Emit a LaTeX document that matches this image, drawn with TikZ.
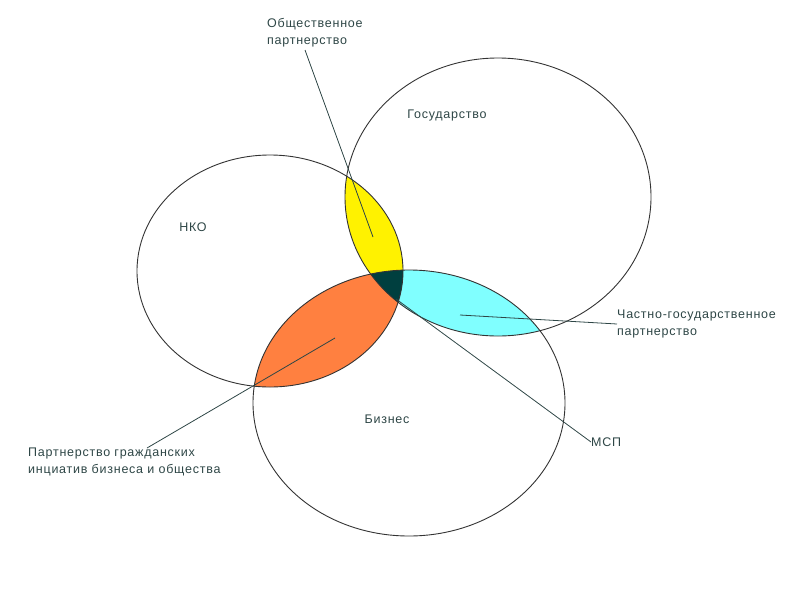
\documentclass[tikz,border=0pt]{standalone}
\usepackage{fontspec}
\setmainfont[LetterSpace=6]{Liberation Sans}
\definecolor{ink}{HTML}{2E4646}
\definecolor{leaf}{HTML}{FF8040}
\definecolor{aqua}{HTML}{80FFFF}
\definecolor{core}{HTML}{003F3F}
\begin{document}
\begin{tikzpicture}[x=1pt,y=-1pt,
  ring/.style={draw=black!80, line width=0.9pt},
  leader/.style={draw=ink, line width=0.8pt},
  lbl/.style={text=ink, font=\fontsize{12.5}{17}\selectfont, inner sep=0pt, align=left}]
  \useasboundingbox (0,0) rectangle (800,600);
  \def\nko{(270,271) ellipse [x radius=133pt, y radius=116pt]}
  \def\gos{(498,197) ellipse [x radius=153pt, y radius=139pt]}
  \def\biz{(409,403) ellipse [x radius=156pt, y radius=133pt]}
  % overlaps
  \begin{scope} \clip \nko; \fill[yellow] \gos; \end{scope}
  \begin{scope} \clip \nko; \fill[leaf] \biz; \end{scope}
  \begin{scope} \clip \gos; \fill[aqua] \biz; \end{scope}
  \begin{scope} \clip \nko; \clip \gos; \fill[core] \biz; \end{scope}
  \draw[ring] \nko;
  \draw[ring] \gos;
  \draw[ring] \biz;
  % labels
  \node[lbl] (nkolbl) at (193,227) {НКО};
  \node[lbl] (goslbl) at (447,115) {Государство};
  \node[lbl] (bizlbl) at (387,419) {Бизнес};
  \node[lbl, anchor=west] (obshch) at (267,33) {Общественное\\партнерство};
  \node[lbl, anchor=west] (chgp) at (617,324) {Частно-государственное\\партнерство};
  \node[lbl, anchor=west] (msp) at (591,442) {МСП};
  \node[lbl, anchor=west] (pgi) at (28,462) {Партнерство гражданских\\инциатив бизнеса и общества};
  % leaders
  \coordinate (yel) at (373,237);
  \coordinate (yelend) at (305,50);
  \coordinate (cya) at (460,315);
  \coordinate (mid) at (396,299);
  \coordinate (ora) at (335,338);
  \coordinate (oraend) at (147,448);
  \draw[leader] (yel) -- (yelend);
  \draw[leader] (cya) -- (chgp.west);
  \draw[leader] (mid) -- (msp.west);
  \draw[leader] (ora) -- (oraend);
\end{tikzpicture}
\end{document}
